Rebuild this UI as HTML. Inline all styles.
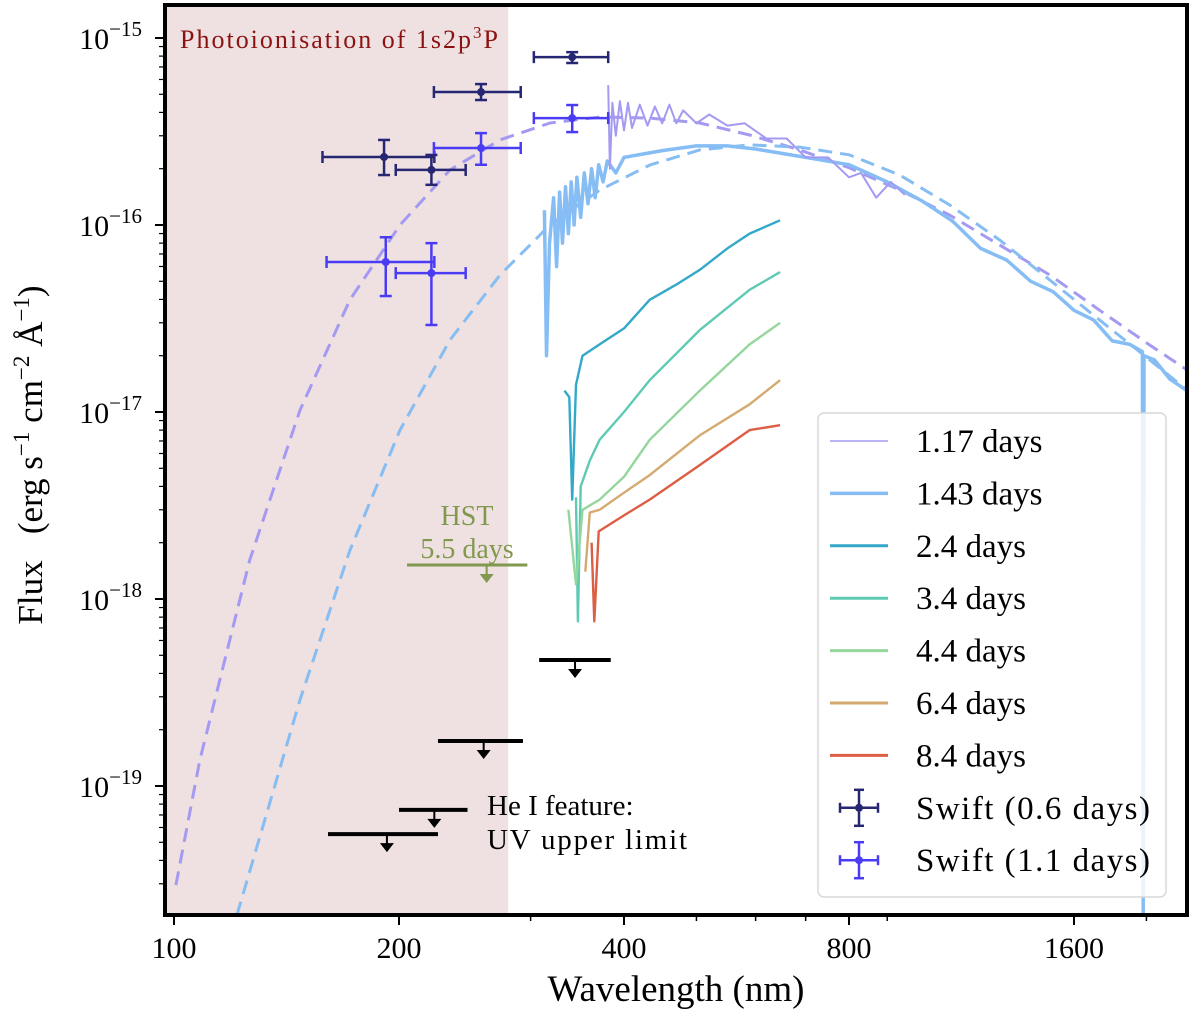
<!DOCTYPE html>
<html><head><meta charset="utf-8"><style>
html,body{margin:0;padding:0;background:#fff}
svg{display:block;font-family:"Liberation Serif",serif}
</style></head><body>
<svg id="chart" width="1200" height="1013" viewBox="0 0 1200 1013"></svg>
<script>
// ---- data ----
const bb117Wave=[100.6,108.3,126.3,147.4,171.9,200.6,234,273,318.5,371.5,433,505,589,687,801,935,1091,1273,1485,1732,2021,2266];
const bb117Flux=[2.95e-20,1.38e-19,1.62e-18,1.02e-17,3.98e-17,1.0e-16,1.97e-16,2.85e-16,3.51e-16,3.78e-16,3.73e-16,3.51e-16,3.03e-16,2.52e-16,2.02e-16,1.54e-16,1.13e-16,7.8e-17,5.4e-17,3.5e-17,2.28e-17,1.68e-17];
const bb143Wave=[121.4,147.4,171.9,200.6,234,273,318.5,371.5,433,505,589,687,801,935,1091,1273,1485,1732,2021,2266];
const bb143Flux=[2.04e-20,2.88e-19,1.82e-18,8.0e-18,2.43e-17,5.4e-17,1.0e-16,1.54e-16,2.09e-16,2.52e-16,2.68e-16,2.61e-16,2.37e-16,1.85e-16,1.28e-16,8.3e-17,5.08e-17,3.1e-17,1.9e-17,1.31e-17];
const s117Wave=[381,383,386,390,395,400,405,410,420,430,440,450,460,470,480,500,520,550,580,620,660,700,750,800,830,870,910,950];
const s117Flux=[5.6e-16,2.0e-16,4.5e-16,3.0e-16,4.6e-16,3.2e-16,4.5e-16,3.3e-16,4.4e-16,3.4e-16,4.3e-16,3.5e-16,4.4e-16,3.5e-16,4.1e-16,3.5e-16,3.9e-16,3.4e-16,3.5e-16,2.9e-16,2.9e-16,2.3e-16,2.3e-16,1.8e-16,1.9e-16,1.4e-16,1.7e-16,1.45e-16];
const s143Wave=[313,315,318,322,325,328,331,334,337,340,343,346,350,354,358,362,366,370,375,380,390,400,450,500,550,600,700,800,900,1000,1100,1200,1300,1400,1500,1600,1700,1800,1900,1975,1980,1985,2050,2150,2266];
const s143Flux=[1.2e-16,2.0e-17,8e-17,1.4e-16,6e-17,1.5e-16,8e-17,1.6e-16,9e-17,1.7e-16,1.0e-16,1.8e-16,1.1e-16,1.9e-16,1.3e-16,2.0e-16,1.4e-16,2.1e-16,1.7e-16,2.2e-16,1.9e-16,2.3e-16,2.5e-16,2.65e-16,2.65e-16,2.55e-16,2.3e-16,2.1e-16,1.7e-16,1.35e-16,1.05e-16,7.5e-17,6.5e-17,5.0e-17,4.4e-17,3.5e-17,3.1e-17,2.4e-17,2.3e-17,2.1e-17,2.1e-20,2.0e-17,1.9e-17,1.5e-17,1.3e-17];
const s24Wave=[333,338,341,345,352,371,400,433,470,505,550,589,647];
const s24Flux=[1.3e-17,1.2e-17,3.4e-18,1.4e-17,2.0e-17,2.3e-17,2.8e-17,3.98e-17,4.8e-17,5.75e-17,7.5e-17,9.0e-17,1.06e-16];
const s34Wave=[345,347,350,360,371,400,433,505,589,647];
const s34Flux=[3.5e-18,7.6e-19,4e-18,5.5e-18,7.1e-18,1.0e-17,1.48e-17,2.74e-17,4.5e-17,5.6e-17];
const s44Wave=[337,345,352,371,400,433,505,589,647];
const s44Flux=[3.0e-18,1.2e-18,3.0e-18,3.4e-18,4.5e-18,7.1e-18,1.3e-17,2.3e-17,3.0e-17];
const s64Wave=[355,360,371,400,433,505,589,647];
const s64Flux=[1.4e-18,2.9e-18,3.0e-18,3.7e-18,4.6e-18,7.5e-18,1.1e-17,1.48e-17];
const s84Wave=[362,365,370,400,433,505,589,647];
const s84Flux=[2.0e-18,7.6e-19,2.3e-18,2.8e-18,3.4e-18,5.2e-18,8.0e-18,8.5e-18];
const sw06Wave=[191,221,257.5,341];
const sw06Lo=[158,198,222.7,303];
const sw06Hi=[223,245.6,291,381];
const sw06Flux=[2.31e-16,1.97e-16,5.14e-16,7.9e-16];
const sw06FLo=[1.85e-16,1.64e-16,4.66e-16,7.35e-16];
const sw06FHi=[2.85e-16,2.37e-16,5.67e-16,8.4e-16];
const sw11Wave=[192,221,257.5,341];
const sw11Lo=[160,198,222.7,303];
const sw11Hi=[223,245.6,291,381];
const sw11Flux=[6.34e-17,5.53e-17,2.58e-16,3.73e-16];
const sw11FLo=[4.17e-17,2.92e-17,2.1e-16,3.14e-16];
const sw11FHi=[8.6e-17,8.0e-17,3.1e-16,4.38e-16];
const ulWave=[192.7,223,259.6,344];
const ulLo=[160.7,200,225.5,308];
const ulHi=[225.5,247,293,384];
const ulFlux=[5.53e-20,7.45e-20,1.74e-19,4.72e-19];
const hstWave=[262];const hstLo=[205];const hstHi=[297];const hstFlux=[1.52e-18];
const xTicks=[100,200,400,800,1600];
const xMinor=[300,500,600,700,900,2000];
const yTickExp=[-15,-16,-17,-18,-19];
// ---- scales ----
const L=165,R=1187,T=5,B=915;
const X=l=>174+225*Math.log2(l/100);
const Y=f=>38-187*(Math.log10(f)+15);
const svg=document.getElementById('chart');
const NS='http://www.w3.org/2000/svg';
function mk(tag,attrs,parent){const e=document.createElementNS(NS,tag);for(const k in attrs)e.setAttribute(k,attrs[k]);(parent||svg).appendChild(e);return e;}
const defs=mk('defs',{});
const cp=mk('clipPath',{id:'pc'},defs);mk('rect',{x:L,y:T,width:R-L,height:B-T},cp);
const shade=mk('rect',{x:L,y:T,width:X(280)-L,height:B-T,fill:'#efe1e1'});


const plot=mk('g',{'clip-path':'url(#pc)'});


function line(ws,fs,color,w,name,dash,op){
  const d=ws.map((l,i)=>(i?'L':'M')+X(l).toFixed(1)+','+Y(fs[i]).toFixed(1)).join('');
  const p=mk('path',{d:d,fill:'none',stroke:color,'stroke-width':w,'stroke-linejoin':'round','stroke-dasharray':dash||'none',opacity:op||1},plot);
  
  
}
line(bb117Wave,bb117Flux,'#a49af2',3,'blackbody-fit-1-17-days','14,8');
line(bb143Wave,bb143Flux,'#86bdf2',3,'blackbody-fit-1-43-days','14,8');
line(s143Wave,s143Flux,'#86bdf5',3.5,'spectrum-1-43-days');
line(s117Wave,s117Flux,'#a49af2',2,'spectrum-1-17-days');
line(s24Wave,s24Flux,'#34a8c8',2.4,'spectrum-2-4-days');
line(s34Wave,s34Flux,'#5fcab4',2.4,'spectrum-3-4-days');
line(s44Wave,s44Flux,'#94d69c',2.4,'spectrum-4-4-days');
line(s64Wave,s64Flux,'#d4aa70',2.4,'spectrum-6-4-days');
line(s84Wave,s84Flux,'#dc5e44',2.4,'spectrum-8-4-days');
function errs(w,lo,hi,f,flo,fhi,color,name){
  w.forEach((l,i)=>{
    const g=mk('g',{stroke:color,'stroke-width':2.5,fill:color},plot);
    
    
    const x=X(l),y=Y(f[i]),x1=X(lo[i]),x2=X(hi[i]),y1=Y(fhi[i]),y2=Y(flo[i]);
    mk('line',{x1:x1,x2:x2,y1:y,y2:y},g);mk('line',{x1:x,x2:x,y1:y1,y2:y2},g);
    mk('line',{x1:x1,x2:x1,y1:y-6,y2:y+6},g);mk('line',{x1:x2,x2:x2,y1:y-6,y2:y+6},g);
    mk('line',{x1:x-6,x2:x+6,y1:y1,y2:y1},g);mk('line',{x1:x-6,x2:x+6,y1:y2,y2:y2},g);
    mk('circle',{cx:x,cy:y,r:4,stroke:'none'},g);
  });
}
errs(sw06Wave,sw06Lo,sw06Hi,sw06Flux,sw06FLo,sw06FHi,'#262673','swift-0-6-days-point');
errs(sw11Wave,sw11Lo,sw11Hi,sw11Flux,sw11FLo,sw11FHi,'#4a3cf5','swift-1-1-days-point');
function limits(w,lo,hi,f,color,name,lw){
  w.forEach((l,i)=>{
    const g=mk('g',{stroke:color,fill:color},plot);
    
    
    const x=X(l),y=Y(f[i]);
    mk('line',{x1:X(lo[i]),x2:X(hi[i]),y1:y,y2:y,'stroke-width':lw},g);
    mk('line',{x1:x,x2:x,y1:y,y2:y+10,'stroke-width':2},g);
    mk('path',{d:`M${x-7},${y+9}L${x+7},${y+9}L${x},${y+18}Z`,stroke:'none'},g);
  });
}
limits(ulWave,ulLo,ulHi,ulFlux,'#000','uv-upper-limit',4);
limits(hstWave,hstLo,hstHi,hstFlux,'#80994f','hst-upper-limit',3);
function txt(x,y,s,attrs,name){const t=mk('text',Object.assign({x:x,y:y},attrs));t.innerHTML=s;return t;}
txt(180,48,'Photoionisation of 1s2p<tspan dy="-10" font-size="17">3</tspan><tspan dy="10">P</tspan>',{'font-size':26,fill:'#8b1212',textLength:318},'photoionisation-label');
txt(467,525,'HST',{'font-size':28,fill:'#80994f','text-anchor':'middle'},'hst-label');
txt(467,558,'5.5 days',{'font-size':28,fill:'#80994f','text-anchor':'middle'},'hst-epoch-label');
txt(487,815,'He I feature:',{'font-size':29,fill:'#000'},'he-feature-label');
txt(487,849,'UV upper limit',{'font-size':29,fill:'#000',textLength:200},'uv-limit-label');
const lg=mk('g',{});


mk('rect',{x:818,y:413,width:348,height:484,rx:6,fill:'rgba(255,255,255,0.82)',stroke:'#d8d8d8','stroke-width':1.5},lg);
const legLabels=['1.17 days','1.43 days','2.4 days','3.4 days','4.4 days','6.4 days','8.4 days','Swift (0.6 days)','Swift (1.1 days)'];
const legColors=['#a49af2','#86bdf5','#34a8c8','#5fcab4','#94d69c','#d4aa70','#dc5e44','#262673','#4a3cf5'];
const legW=[1.5,3.5,3,3,3,3,3,2.5,2.5];
legLabels.forEach((s,i)=>{
  const y=441+52.4*i;
  const g=mk('g',{},lg);
  
  
  if(i<7){mk('line',{x1:830,x2:888,y1:y,y2:y,stroke:legColors[i],'stroke-width':legW[i]},g);}
  else{const c=legColors[i];
    mk('line',{x1:840,x2:878,y1:y,y2:y,stroke:c,'stroke-width':2.5},g);
    mk('line',{x1:859,x2:859,y1:y-18,y2:y+18,stroke:c,'stroke-width':2.5},g);
    mk('line',{x1:840,x2:840,y1:y-5,y2:y+5,stroke:c,'stroke-width':2.5},g);
    mk('line',{x1:878,x2:878,y1:y-5,y2:y+5,stroke:c,'stroke-width':2.5},g);
    mk('line',{x1:854,x2:864,y1:y-18,y2:y-18,stroke:c,'stroke-width':2.5},g);
    mk('line',{x1:854,x2:864,y1:y+18,y2:y+18,stroke:c,'stroke-width':2.5},g);
    mk('circle',{cx:859,cy:y,r:4,fill:c},g);}
  const attrs={x:916,y:y+11,'font-size':33,fill:'#000'};
  if(i>=7)attrs.textLength=234;
  const t=mk('text',attrs,g);t.textContent=s;
});
const fr=mk('rect',{x:L,y:T,width:R-L,height:B-T,fill:'none',stroke:'#000','stroke-width':4});


const xa=mk('g',{});


xTicks.forEach(v=>{const x=X(v);mk('line',{x1:x,x2:x,y1:B,y2:B+10,stroke:'#000','stroke-width':2},xa);
  const t=mk('text',{x:x,y:B+43,'font-size':30,'text-anchor':'middle'},xa);t.textContent=v;});
xMinor.forEach(v=>{const x=X(v);mk('line',{x1:x,x2:x,y1:B,y2:B+6,stroke:'#000','stroke-width':1.5},xa);});
const ya=mk('g',{});


yTickExp.forEach(e=>{const y=Y(Math.pow(10,e));mk('line',{x1:L-10,x2:L,y1:y,y2:y,stroke:'#000','stroke-width':2},ya);
  const t=mk('text',{x:142,y:y+11,'font-size':30,'text-anchor':'end'},ya);
  t.innerHTML='10<tspan dy="-13" font-size="21">\u2212'+(-e)+'</tspan>';
  for(let m=2;m<10;m++){const yy=Y(m*Math.pow(10,e));if(yy>T&&yy<B)mk('line',{x1:L-6,x2:L,y1:yy,y2:yy,stroke:'#000','stroke-width':1.2},ya);}
});
for(let m=3;m<10;m++){const yy=Y(m*1e-20);if(yy<B)mk('line',{x1:L-6,x2:L,y1:yy,y2:yy,stroke:'#000','stroke-width':1.2},ya);}
txt(676,1001,'Wavelength (nm)',{'font-size':37,'text-anchor':'middle'},'x-axis-title');
txt(0,0,'Flux &#160;&#160;(erg s<tspan dy="-13" font-size="23">\u22121</tspan><tspan dy="13"> cm</tspan><tspan dy="-13" font-size="23">\u22122</tspan><tspan dy="13"> \u00c5</tspan><tspan dy="-13" font-size="23">\u22121</tspan><tspan dy="13">)</tspan>',{'font-size':35,'text-anchor':'middle',transform:'translate(42,455) rotate(-90)'},'y-axis-title');
</script>
</body></html>
